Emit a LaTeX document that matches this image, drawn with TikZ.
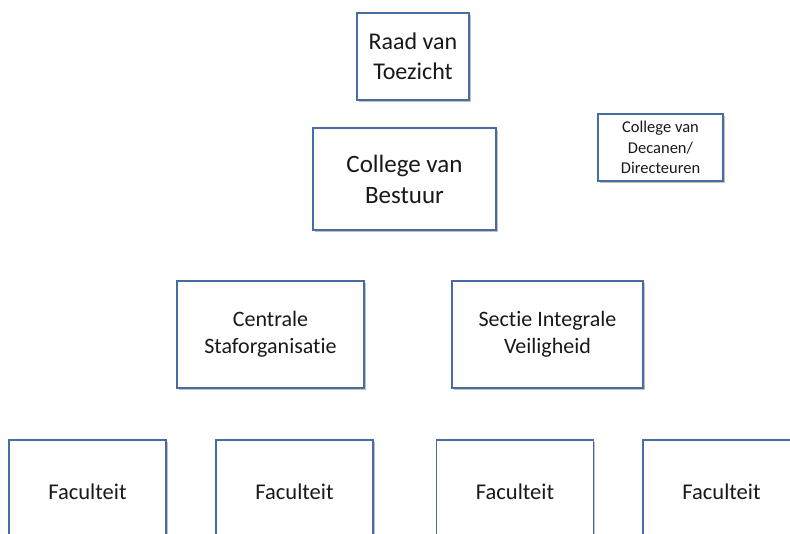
\documentclass[tikz,border=0pt]{standalone}
\usepackage{fontspec}
\setmainfont{Carlito}[Ligatures={NoCommon,NoContextual}]
\usetikzlibrary{shadows}
\definecolor{boxline}{RGB}{70,108,162}
\definecolor{boxtext}{RGB}{25,25,25}
\tikzset{
  orgbox/.style={draw=boxline, line width=1.4pt, fill=white, rectangle,
    align=center, text=boxtext, inner sep=0pt,
    drop shadow={shadow xshift=1.8pt, shadow yshift=-1.8pt, opacity=0.35, fill=black!70}},
}
\newcommand{\fs}[1]{\fontsize{#1}{1.24\dimexpr#1pt\relax}\selectfont}
\begin{document}
\begin{tikzpicture}[x=1pt,y=-1pt]
  \useasboundingbox (0,0) rectangle (790,534);
  % top of the organisation
  \node[orgbox, minimum width=112pt, minimum height=87pt, font=\fs{24}] (raad) at (413,56.5) {Raad van\\Toezicht};
  \node[orgbox, minimum width=183pt, minimum height=102pt, font=\fs{25}] (cvb) at (404.5,179) {College van\\Bestuur};
  \node[orgbox, minimum width=125pt, minimum height=67pt, font=\fs{16.5}] (cvd) at (660.5,147.5) {College van\\Decanen/\\Directeuren};
  % staff units
  \node[orgbox, minimum width=187pt, minimum height=107pt, font=\fs{22}] (cso) at (270.5,334.5) {Centrale\\Staforganisatie};
  \node[orgbox, minimum width=191pt, minimum height=107pt, font=\fs{22}] (siv) at (547.5,334.5) {Sectie Integrale\\Veiligheid};
  % faculties
  \node[orgbox, minimum width=157pt, minimum height=104pt, font=\fs{22.5}] (fac1) at (87.5,492) {Faculteit};
  \node[orgbox, minimum width=157pt, minimum height=104pt, font=\fs{22.5}] (fac2) at (294.5,492) {Faculteit};
  \node[orgbox, minimum width=157pt, minimum height=104pt, font=\fs{22.5}] (fac3) at (515,492) {Faculteit};
  \node[orgbox, minimum width=157pt, minimum height=104pt, font=\fs{22.5}] (fac4) at (721.5,492) {Faculteit};
\end{tikzpicture}
\end{document}
